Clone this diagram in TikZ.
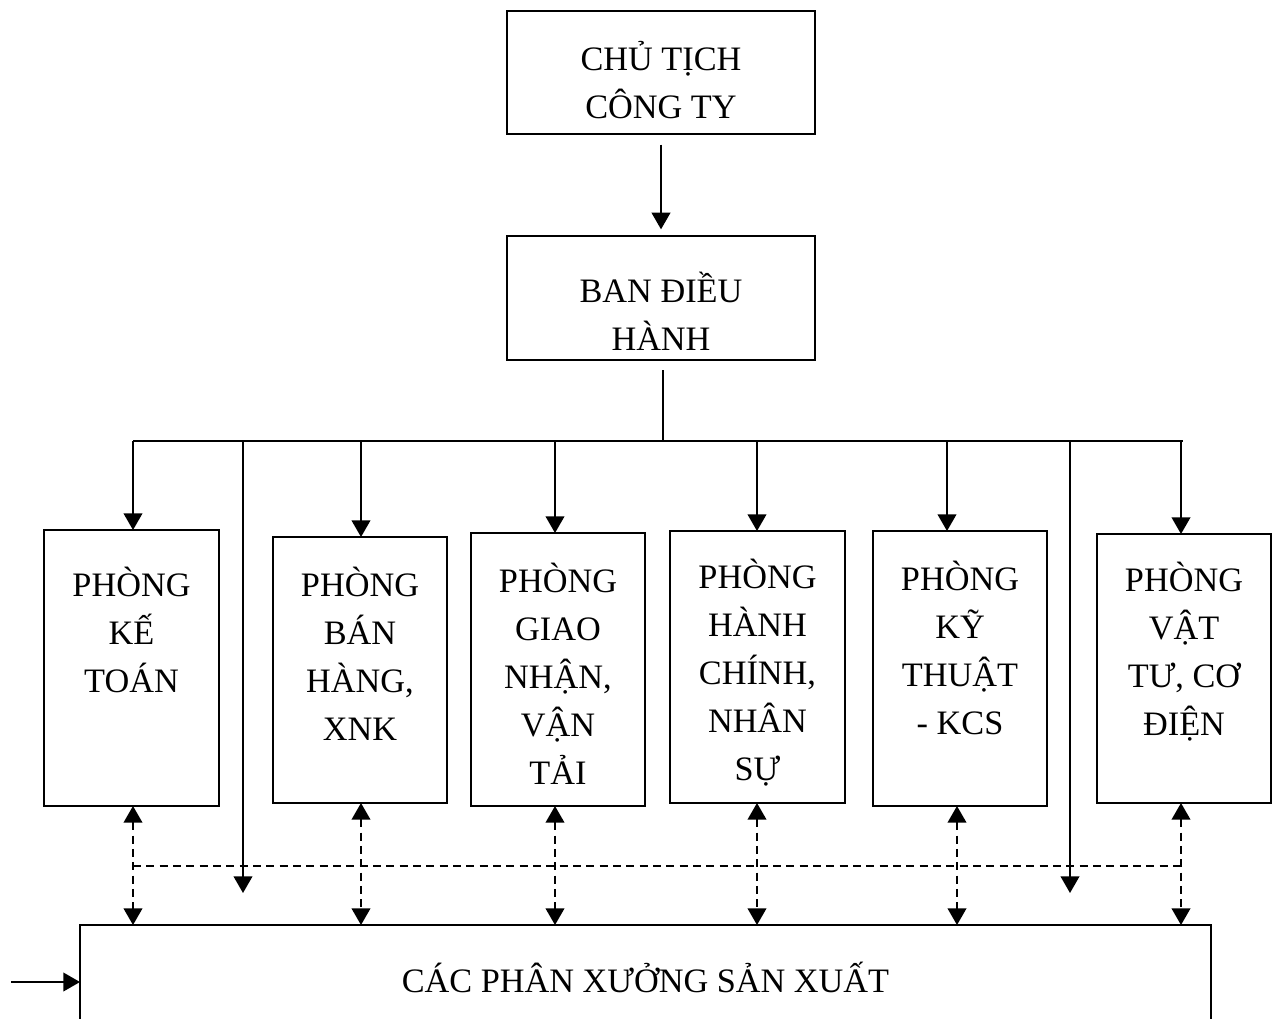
\documentclass[tikz,border=0pt]{standalone}
\usepackage{fontspec}
\setmainfont{Liberation Serif}
\usetikzlibrary{arrows.meta}
\begin{document}
\begin{tikzpicture}[x=0.75pt,y=-0.75pt,
  line width=1.4pt,
  box/.style={draw, rectangle, inner sep=0pt, outer sep=0pt},
  lbl/.style={align=center, inner sep=0pt, font=\fontsize{25.7pt}{36pt}\selectfont},
  tip/.style={-{Triangle[length=12.5pt,width=14pt]}},
  dtip/.style={{Triangle[length=12.5pt,width=14pt]}-{Triangle[length=12.5pt,width=14pt]}, dash pattern=on 6pt off 4pt}]
\clip (0,0) rectangle (1277,1018);
\fill[white] (0,0) rectangle (1277,1018);

% top management
\node[box, minimum width=231pt, minimum height=92.25pt] (chu) at (661,72.5) {};
\node[lbl] (tchu) at (661,80.5) {CHỦ TỊCH\\CÔNG TY};
\node[box, minimum width=231pt, minimum height=93pt] (ban) at (661,298) {};
\node[lbl] (tban) at (661,311) {BAN ĐIỀU\\HÀNH};

% departments
\node[box, minimum width=131.25pt, minimum height=207pt] (k1) at (131.5,668) {};
\node[lbl] (t1) at (131.5,630) {PHÒNG\\KẾ\\TOÁN};
\node[box, minimum width=130.5pt, minimum height=199.5pt] (k2) at (360,670) {};
\node[lbl] (t2) at (360,654) {PHÒNG\\BÁN\\HÀNG,\\XNK};
\node[box, minimum width=130.5pt, minimum height=204.75pt] (k3) at (558,669.5) {};
\node[lbl] (t3) at (558,674) {PHÒNG\\GIAO\\NHẬN,\\VẬN\\TẢI};
\node[box, minimum width=131.25pt, minimum height=204pt] (k4) at (757.5,667) {};
\node[lbl] (t4) at (757.5,673) {PHÒNG\\HÀNH\\CHÍNH,\\NHÂN\\SỰ};
\node[box, minimum width=130.5pt, minimum height=206.25pt] (k5) at (960,668.5) {};
\node[lbl] (t5) at (960,648) {PHÒNG\\KỸ\\THUẬT\\- KCS};
\node[box, minimum width=130.5pt, minimum height=201.75pt] (k6) at (1184,668.5) {};
\node[lbl] (t6) at (1184,652) {PHÒNG\\VẬT\\TƯ, CƠ\\ĐIỆN};

% production workshops
\node[box, minimum width=848.25pt, minimum height=86.25pt] (prod) at (645.5,982.5) {};
\node[lbl] (tprod) at (645.5,977.5) {CÁC PHÂN XƯỞNG SẢN XUẤT};

% solid distribution bus
\coordinate (busmid) at (663,441);
\coordinate (b1) at (133,441);
\coordinate (b2) at (361,441);
\coordinate (b3) at (555,441);
\coordinate (b4) at (757,441);
\coordinate (b5) at (947,441);
\coordinate (b6) at (1181,441);
\coordinate (bl) at (243,441);
\coordinate (br) at (1070,441);
\coordinate (bend) at (1183,441);
\coordinate (el) at (243,893);
\coordinate (er) at (1070,893);

\draw[tip, shorten <=8pt, shorten >=5pt] (chu.south) -- (ban.north);
\draw ([yshift=-7.5pt]ban.south -| busmid) -- (busmid);
\draw (b1) -- (bend);
\draw[tip] (b1) -- (b1 |- k1.north);
\draw[tip] (b2) -- (b2 |- k2.north);
\draw[tip] (b3) -- (b3 |- k3.north);
\draw[tip] (b4) -- (b4 |- k4.north);
\draw[tip] (b5) -- (b5 |- k5.north);
\draw[tip] (b6) -- (b6 |- k6.north);
\draw[tip] (bl) -- (el);
\draw[tip] (br) -- (er);

% dashed links between departments and workshops
\coordinate (d1) at (133,866);
\coordinate (d2) at (361,866);
\coordinate (d3) at (555,866);
\coordinate (d4) at (757,866);
\coordinate (d5) at (957,866);
\coordinate (d6) at (1181,866);
\draw[dash pattern=on 6pt off 4pt] (d1) -- (d6);
\draw[dtip] (d1 |- k1.south) -- (d1 |- prod.north);
\draw[dtip] (d2 |- k2.south) -- (d2 |- prod.north);
\draw[dtip] (d3 |- k3.south) -- (d3 |- prod.north);
\draw[dtip] (d4 |- k4.south) -- (d4 |- prod.north);
\draw[dtip] (d5 |- k5.south) -- (d5 |- prod.north);
\draw[dtip] (d6 |- k6.south) -- (d6 |- prod.north);

% incoming arrow on the left
\coordinate (inl) at (11,982);
\draw[tip] (inl) -- (inl -| prod.west);
\end{tikzpicture}
\end{document}
